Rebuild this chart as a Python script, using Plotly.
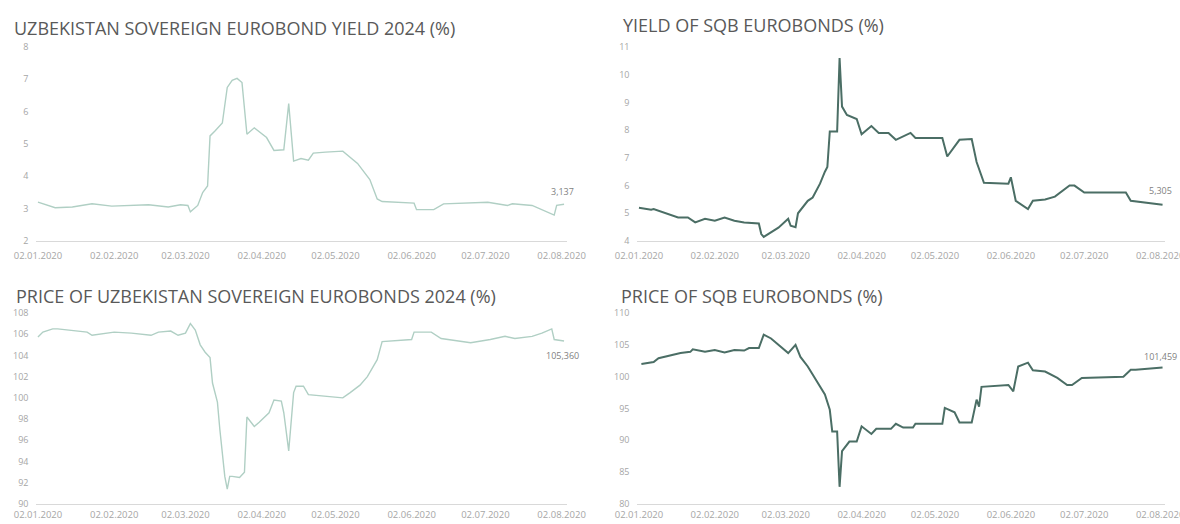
import plotly.graph_objects as go

# ---------------- data ----------------
uz_yield_dates = ["2020-01-02","2020-01-09","2020-01-16","2020-01-24","2020-02-01","2020-02-09","2020-02-16",
                  "2020-02-24","2020-02-29","2020-03-03","2020-03-04","2020-03-07","2020-03-09","2020-03-11",
                  "2020-03-12","2020-03-14","2020-03-17","2020-03-19","2020-03-21","2020-03-23","2020-03-25",
                  "2020-03-27","2020-03-30","2020-04-04","2020-04-07","2020-04-11","2020-04-13","2020-04-15",
                  "2020-04-18","2020-04-21","2020-04-23","2020-04-28","2020-05-05","2020-05-11","2020-05-16",
                  "2020-05-19","2020-05-21","2020-06-03","2020-06-04","2020-06-11","2020-06-15","2020-07-03",
                  "2020-07-11","2020-07-13","2020-07-21","2020-07-30","2020-07-31","2020-08-03"]
uz_yield_vals = [3.20,3.03,3.05,3.15,3.08,3.10,3.12,
                 3.05,3.12,3.10,2.90,3.10,3.50,3.70,
                 5.25,5.40,5.65,6.75,6.97,7.03,6.90,
                 5.30,5.50,5.20,4.80,4.82,6.25,4.47,
                 4.55,4.50,4.72,4.75,4.78,4.40,3.90,
                 3.30,3.22,3.17,2.97,2.97,3.15,3.20,
                 3.10,3.15,3.10,2.80,3.10,3.137]

sqb_yield_dates = ["2020-01-02","2020-01-07","2020-01-08","2020-01-13","2020-01-18","2020-01-22","2020-01-25",
                   "2020-01-29","2020-02-02","2020-02-06","2020-02-10","2020-02-14","2020-02-20","2020-02-21",
                   "2020-02-22","2020-02-28","2020-03-03","2020-03-04","2020-03-06","2020-03-07","2020-03-11",
                   "2020-03-13","2020-03-16","2020-03-18","2020-03-19","2020-03-20","2020-03-23","2020-03-24",
                   "2020-03-25","2020-03-27","2020-03-31","2020-04-02","2020-04-06","2020-04-09","2020-04-13",
                   "2020-04-16","2020-04-22","2020-04-24","2020-05-05","2020-05-07","2020-05-12","2020-05-17",
                   "2020-05-19","2020-05-22","2020-06-01","2020-06-02","2020-06-04","2020-06-09","2020-06-11",
                   "2020-06-16","2020-06-20","2020-06-26","2020-06-28","2020-07-02","2020-07-19","2020-07-21",
                   "2020-07-28","2020-08-03"]
sqb_yield_vals = [5.20,5.13,5.15,5.00,4.85,4.85,4.67,
                  4.80,4.73,4.85,4.73,4.67,4.63,4.25,
                  4.15,4.48,4.80,4.55,4.50,5.00,5.45,
                  5.57,6.07,6.50,6.67,7.95,7.95,10.60,
                  8.85,8.55,8.40,7.85,8.15,7.90,7.90,
                  7.65,7.90,7.72,7.72,7.05,7.65,7.68,
                  6.85,6.10,6.07,6.30,5.45,5.15,5.45,
                  5.50,5.60,6.00,6.00,5.75,5.75,5.45,
                  5.38,5.305]

uz_price_dates = ["2020-01-02","2020-01-04","2020-01-08","2020-01-10","2020-01-22","2020-01-24","2020-02-02",
                  "2020-02-09","2020-02-17","2020-02-20","2020-02-25","2020-02-28","2020-03-02","2020-03-04",
                  "2020-03-06","2020-03-08","2020-03-10","2020-03-12","2020-03-13","2020-03-15","2020-03-16",
                  "2020-03-18","2020-03-19","2020-03-20","2020-03-21","2020-03-24","2020-03-26","2020-03-27",
                  "2020-03-30","2020-04-01","2020-04-05","2020-04-07","2020-04-10","2020-04-11","2020-04-13",
                  "2020-04-15","2020-04-16","2020-04-19","2020-04-21","2020-04-26","2020-05-05","2020-05-08",
                  "2020-05-12","2020-05-15","2020-05-19","2020-05-21","2020-06-02","2020-06-03","2020-06-10",
                  "2020-06-14","2020-06-26","2020-07-04","2020-07-10","2020-07-14","2020-07-21","2020-07-25",
                  "2020-07-29","2020-07-30","2020-08-03"]
uz_price_vals = [105.75,106.2,106.5,106.5,106.2,105.9,106.2,
                 106.1,105.9,106.2,106.3,105.9,106.1,107.0,
                 106.4,105.0,104.3,103.8,101.4,99.6,97.0,
                 92.6,91.4,92.6,92.6,92.5,93.0,98.2,
                 97.3,97.7,98.6,99.8,99.7,98.6,95.0,
                 100.5,101.1,101.1,100.3,100.2,100.0,100.5,
                 101.2,102.0,103.6,105.3,105.5,106.2,106.2,
                 105.6,105.2,105.5,105.8,105.6,105.8,106.1,
                 106.5,105.5,105.36]

sqb_price_dates = ["2020-01-03","2020-01-08","2020-01-10","2020-01-15","2020-01-19","2020-01-23","2020-01-24",
                   "2020-01-29","2020-02-02","2020-02-06","2020-02-10","2020-02-14","2020-02-16","2020-02-20",
                   "2020-02-22","2020-02-25","2020-03-03","2020-03-06","2020-03-08","2020-03-11","2020-03-14",
                   "2020-03-18","2020-03-20","2020-03-21","2020-03-23","2020-03-24","2020-03-25","2020-03-28",
                   "2020-03-31","2020-04-02","2020-04-06","2020-04-08","2020-04-14","2020-04-16","2020-04-19",
                   "2020-04-23","2020-04-24","2020-05-05","2020-05-06","2020-05-10","2020-05-12","2020-05-17",
                   "2020-05-19","2020-05-20","2020-05-21","2020-06-01","2020-06-03","2020-06-05","2020-06-09",
                   "2020-06-11","2020-06-16","2020-06-21","2020-06-25","2020-06-27","2020-07-01","2020-07-18",
                   "2020-07-21","2020-07-23","2020-08-03"]
sqb_price_vals = [102.0,102.3,102.9,103.4,103.7,103.9,104.3,
                  103.9,104.2,103.8,104.2,104.1,104.5,104.5,
                  106.6,106.0,103.7,105.0,103.1,101.6,99.8,
                  97.2,94.8,91.4,91.4,82.7,88.3,89.8,
                  89.8,92.2,91.0,91.8,91.8,92.6,92.0,
                  92.0,92.6,92.6,95.1,94.4,92.8,92.8,
                  96.4,95.3,98.4,98.7,97.7,101.6,102.2,
                  101.0,100.8,99.8,98.7,98.7,99.8,100.0,
                  101.1,101.1,101.459]

tick_dates = ["2020-01-02","2020-02-02","2020-03-02","2020-04-02","2020-05-02","2020-06-02","2020-07-02","2020-08-02"]
tick_text = ["02.01.2020","02.02.2020","02.03.2020","02.04.2020","02.05.2020","02.06.2020","02.07.2020","02.08.2020"]

titles = ["UZBEKISTAN SOVEREIGN EUROBOND YIELD 2024 (%)", "YIELD OF SQB EUROBONDS (%)",
          "PRICE OF UZBEKISTAN SOVEREIGN EUROBONDS 2024 (%)", "PRICE OF SQB EUROBONDS (%)"]
end_labels = ["3,137", "5,305", "105,360", "101,459"]

# ---------------- figure ----------------
W, H = 1180, 524
LIGHT = "#b0cfc4"
DARK = "#4b6e65"
TICKC = "#a6a6a6"
FONT = "Open Sans"

fig = go.Figure()

panels = [
    dict(x=uz_yield_dates, y=uz_yield_vals, color=LIGHT, width=1.4, xs="x", ys="y"),
    dict(x=sqb_yield_dates, y=sqb_yield_vals, color=DARK, width=2.0, xs="x2", ys="y2"),
    dict(x=uz_price_dates, y=uz_price_vals, color=LIGHT, width=1.4, xs="x3", ys="y3"),
    dict(x=sqb_price_dates, y=sqb_price_vals, color=DARK, width=2.0, xs="x4", ys="y4"),
]
for p in panels:
    fig.add_trace(go.Scatter(x=p["x"], y=p["y"], mode="lines", xaxis=p["xs"], yaxis=p["ys"],
                             line=dict(color=p["color"], width=p["width"]), showlegend=False,
                             hoverinfo="x+y"))

def px_x(a, b):
    return [a / W, b / W]

def px_y(top, bottom):
    return [1 - bottom / H, 1 - top / H]

left_dom = px_x(35.5, 566.5)
right_dom = px_x(636.5, 1165)
top_dom = px_y(47, 241)
bot_dom = px_y(313, 504)

def xaxis_style(standoff):
    return dict(type="date", range=["2020-01-01", "2020-08-04"], tickmode="array",
                tickvals=tick_dates, ticktext=tick_text, showgrid=False, zeroline=False,
                showline=True, linecolor="#d9d9d9", linewidth=1, ticks="", automargin=False,
                ticklabeloverflow="allow", ticklabelstandoff=standoff,
                tickfont=dict(family=FONT, size=9.5, color=TICKC))

ycommon = dict(showgrid=False, zeroline=False, showline=False, ticks="", automargin=False,
               tickfont=dict(family=FONT, size=9, color=TICKC), ticklabelstandoff=6)

fig.update_layout(
    width=W, height=H, margin=dict(l=0, r=0, t=0, b=0, autoexpand=False),
    paper_bgcolor="white", plot_bgcolor="white",
    xaxis=dict(domain=left_dom, anchor="y", **xaxis_style(6)),
    yaxis=dict(domain=top_dom, anchor="x", range=[2, 8], dtick=1, **ycommon),
    xaxis2=dict(domain=right_dom, anchor="y2", **xaxis_style(6)),
    yaxis2=dict(domain=top_dom, anchor="x2", range=[4, 11], dtick=1, **ycommon),
    xaxis3=dict(domain=left_dom, anchor="y3", **xaxis_style(2)),
    yaxis3=dict(domain=bot_dom, anchor="x3", range=[90, 108], dtick=2, **ycommon),
    xaxis4=dict(domain=right_dom, anchor="y4", **xaxis_style(2)),
    yaxis4=dict(domain=bot_dom, anchor="x4", range=[80, 110], dtick=5, **ycommon),
)

# titles
title_pos = [(12, 28), (621, 25), (14, 296), (619, 296)]
for t, (tx, ty) in zip(titles, title_pos):
    fig.add_annotation(text=t, xref="paper", yref="paper", x=tx / W, y=1 - ty / H,
                       xanchor="left", yanchor="middle", showarrow=False,
                       font=dict(family=FONT, size=18, color="#595959"))

# end-value labels
label_specs = [
    (uz_yield_dates[-1], uz_yield_vals[-1], "x", "y", -13),
    (sqb_yield_dates[-1], sqb_yield_vals[-1], "x2", "y2", -14),
    (uz_price_dates[-1], uz_price_vals[-1], "x3", "y3", 14),
    (sqb_price_dates[-1], sqb_price_vals[-1], "x4", "y4", -11),
]
for (d, v, xr, yr, dy), txt in zip(label_specs, end_labels):
    fig.add_annotation(text=txt, x=d, y=v, xref=xr, yref=yr, showarrow=False,
                       yshift=-dy, xshift=-2, font=dict(family=FONT, size=9, color="#7f7f7f"))

fig.write_html("out.html")
